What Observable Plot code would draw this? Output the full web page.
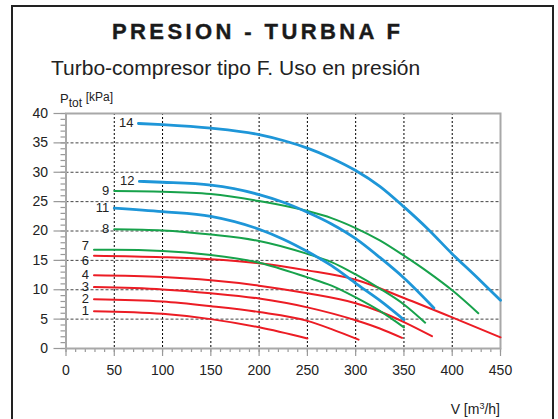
<!DOCTYPE html>
<html><head><meta charset="utf-8">
<script src="https://cdn.jsdelivr.net/npm/d3@7"></script>
<script src="https://cdn.jsdelivr.net/npm/@observablehq/plot@0.6"></script>
<style>
body{margin:0;background:#fff;font-family:"Liberation Sans",Arial,Helvetica,sans-serif;color:#222}
#wrap{position:relative;width:558px;height:419px;overflow:hidden;background:#fff}
#border{position:absolute;left:11px;top:5px;width:543px;height:440px;border:2px solid #222;box-sizing:border-box}
#title{position:absolute;left:112px;top:21px;font-size:22px;line-height:1;font-weight:bold;letter-spacing:3.4px;white-space:nowrap;color:#1a1a1a;-webkit-text-stroke:0.4px #1a1a1a}
#subtitle{position:absolute;left:51px;top:57px;font-size:21px;line-height:1;white-space:nowrap;color:#222}
#ylab{position:absolute;left:60px;top:91px;font-size:13px;line-height:1;white-space:nowrap;color:#222}
#ylab sub{font-size:12px;vertical-align:-4px}
#ylab .u{font-size:12px;vertical-align:2px}
#xlab{position:absolute;right:58px;top:402px;font-size:14px;line-height:1;white-space:nowrap;color:#222}
#xlab sup{font-size:9px;vertical-align:5px}
#chart{position:absolute;left:0;top:86px}
</style></head>
<body>
<div id="wrap">
  <div id="border"></div>
  <div id="title">PRESION - TURBNA F</div>
  <div id="subtitle">Turbo-compresor tipo F. Uso en presión</div>
  <div id="ylab">P<sub>tot</sub> <span class="u">[kPa]</span></div>
  <div id="chart"></div>
  <div id="xlab">V [m<sup>3</sup>/h]</div>
</div>
<script>
// Curve values: flow V [m3/h] and total pressure P [kPa]
const v1 = [29, 100, 150, 200, 250];
const p1 = [6.35, 5.9, 5.0, 3.6, 1.7];
const v2 = [29, 100, 150, 200, 250, 275, 303];
const p2 = [8.4, 8.0, 7.2, 6.2, 4.7, 3.3, 1.5];
const v3 = [29, 100, 150, 200, 250, 300, 325, 348];
const p3 = [10.45, 10.05, 9.4, 8.5, 7.0, 4.8, 3.4, 1.8];
const v4 = [29, 100, 150, 200, 250, 300, 325, 350, 379];
const p4 = [12.45, 12.15, 11.6, 10.7, 9.4, 7.7, 6.3, 4.5, 2.1];
const v6 = [29, 100, 150, 200, 250, 300, 350, 400, 450];
const p6 = [15.8, 15.55, 15.2, 14.5, 13.3, 11.7, 8.6, 5.3, 1.9];
const v7 = [29, 50, 100, 150, 200, 250, 275, 300, 325, 350];
const p7 = [16.8, 16.8, 16.6, 15.9, 14.6, 12.1, 10.7, 8.7, 6.4, 3.6];
const v8 = [50, 100, 150, 200, 250, 275, 300, 325, 350, 372];
const p8 = [20.3, 20.1, 19.4, 18.3, 16.1, 14.7, 12.6, 10.2, 7.5, 4.4];
const v9 = [50, 100, 150, 200, 250, 275, 300, 325, 350, 375, 400, 427];
const p9 = [26.8, 26.7, 26.3, 25.1, 23.4, 22.2, 20.5, 18.4, 15.8, 13.0, 9.9, 6.0];
const v11 = [50, 100, 150, 200, 225, 250, 275, 300, 325, 350];
const p11 = [23.9, 23.3, 22.5, 20.3, 18.6, 16.5, 14.1, 11.1, 8.2, 4.9];
const v12 = [76, 100, 150, 200, 225, 250, 275, 300, 325, 350, 381];
const p12 = [28.45, 28.3, 27.8, 26.2, 24.9, 23.2, 21.2, 18.7, 15.5, 12.0, 6.9];
const v14 = [75, 100, 150, 200, 225, 250, 275, 300, 325, 350, 375, 400, 425, 450];
const p14 = [38.3, 38.1, 37.5, 36.4, 35.4, 34.1, 32.4, 30.3, 27.6, 24.1, 20.3, 16.1, 12.2, 8.2];

const curveIds = ["1", "2", "3", "4", "6", "7", "8", "9", "11", "12", "14"];
const curveFamily = ["red", "red", "red", "red", "red", "green", "green", "green", "blue", "blue", "blue"];
const curveV = [v1, v2, v3, v4, v6, v7, v8, v9, v11, v12, v14];
const curveP = [p1, p2, p3, p4, p6, p7, p8, p9, p11, p12, p14];

const xTicks = [0, 50, 100, 150, 200, 250, 300, 350, 400, 450];
const yTicks = [0, 5, 10, 15, 20, 25, 30, 35, 40];

const colors = {red: "#ec1c24", green: "#17a24b", blue: "#1e96d8"};

const rows = [];
curveIds.forEach((id, i) => {
  curveV[i].forEach((v, j) => rows.push({id, family: curveFamily[i], v, p: curveP[i][j]}));
});
const starts = curveIds.map((id, i) => ({id, v: curveV[i][0], p: curveP[i][0]}));

const lineMark = (fam, w) => Plot.line(rows.filter(d => d.family === fam), {
  x: "v", y: "p", z: "id", stroke: colors[fam], strokeWidth: w, curve: "monotone-x"
});
const labelMark = (filter, dy) => Plot.text(starts.filter(filter), {
  x: "v", y: "p", text: "id", textAnchor: "end", dx: -5, dy, fontSize: 13, lineHeight: 0.85, fill: "#222"
});

const chart = Plot.plot({
  width: 558, height: 333,
  marginLeft: 65.5, marginRight: 58, marginTop: 27, marginBottom: 71,
  style: {fontFamily: "Liberation Sans, Arial, sans-serif", fontSize: "14px", color: "#222", background: "transparent"},
  x: {domain: [0, 450], nice: false, axis: null, label: null},
  y: {domain: [0, 40], nice: false, axis: null, label: null},
  marks: [
    Plot.gridX(xTicks.slice(1, -1), {stroke: "#000", strokeOpacity: 1, strokeWidth: 1, strokeDasharray: "2,2"}),
    Plot.gridY(yTicks.slice(1, -1), {stroke: "#444", strokeOpacity: 1, strokeWidth: 1, strokeDasharray: "3,2"}),
    Plot.axisY(d3.range(0, 41, 1), {tickSize: 5, fill: "none", stroke: "#999", strokeWidth: 1.2, label: null}),
    Plot.axisY(yTicks, {tickSize: 12, tickPadding: 6, stroke: "#999", strokeWidth: 1.2, fill: "#222", fontSize: 14, label: null}),
    Plot.axisX(d3.range(0, 451, 10), {tickSize: 4, fill: "none", stroke: "#999", strokeWidth: 1.2, label: null}),
    Plot.axisX(xTicks, {tickSize: 8, tickPadding: 9, stroke: "#999", strokeWidth: 1.2, fill: "#222", fontSize: 14, label: null}),
    Plot.frame({stroke: "#a8a8a8", strokeWidth: 2}),
    lineMark("red", 2),
    lineMark("green", 2),
    lineMark("blue", 2.8),
    labelMark(d => d.id !== "7" && d.id !== "6", 0),
    labelMark(d => d.id === "7", -3),
    labelMark(d => d.id === "6", 6)
  ]
});
document.getElementById("chart").appendChild(chart);
</script>
</body></html>
